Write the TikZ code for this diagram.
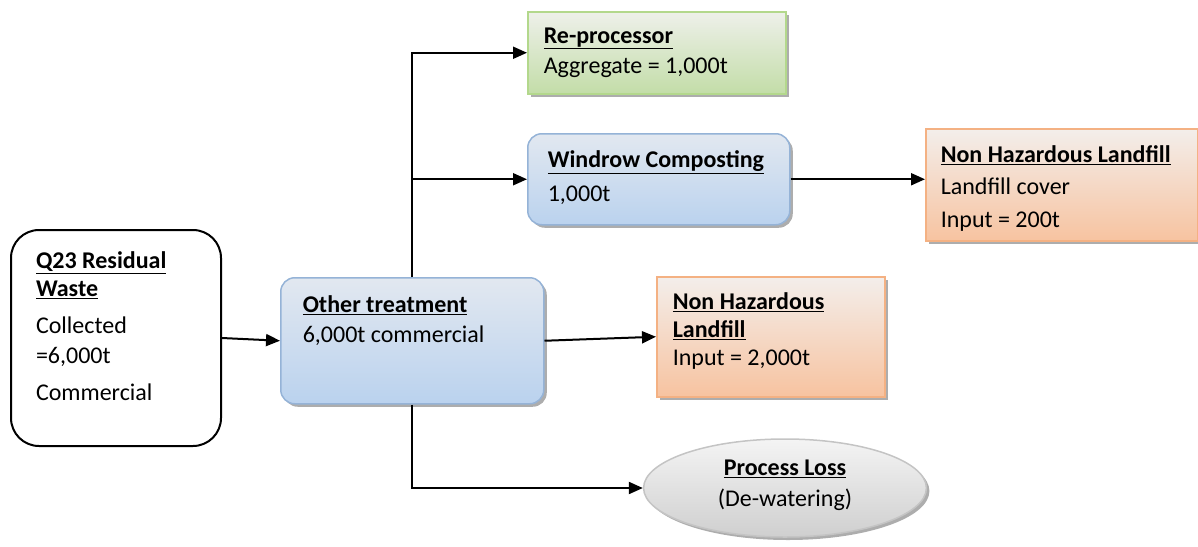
\documentclass[tikz,border=0pt]{standalone}
\usepackage{fontspec}
\setmainfont{Carlito}
\usetikzlibrary{shapes.geometric, arrows.meta, shadows}

\definecolor{bluetop}{HTML}{E2E8F0}
\definecolor{bluebot}{HTML}{BAD2EE}
\definecolor{blueline}{HTML}{95B3D7}
\definecolor{greentop}{HTML}{EEF0EA}
\definecolor{greenbot}{HTML}{C3DDA8}
\definecolor{greenline}{HTML}{B3D88C}
\definecolor{orangetop}{HTML}{F3EEEB}
\definecolor{orangebot}{HTML}{F7C3A0}
\definecolor{orangeline}{HTML}{F4B183}
\definecolor{greytop}{HTML}{F4F4F4}
\definecolor{greybot}{HTML}{CFCFCF}
\definecolor{greyline}{HTML}{C4C4C4}

\newcommand{\boxtext}[3]{\parbox[c][#2][t]{#1}{\raggedright #3}}

\tikzstyle{shadowbox} = [rectangle, anchor=north west, inner xsep=16pt, inner ysep=14pt, line width=1.5pt, drop shadow={shadow xshift=3pt, shadow yshift=-3pt, fill=black!40, opacity=0.8}]
\tikzstyle{wastebox} = [rectangle, rounded corners=28pt, draw=black, line width=2pt, fill=white, anchor=north west, inner xsep=25pt, inner ysep=16pt]
\tikzstyle{bluebox} = [shadowbox, rounded corners=14pt, draw=blueline, top color=bluetop, bottom color=bluebot]
\tikzstyle{greenbox} = [shadowbox, draw=greenline, top color=greentop, bottom color=greenbot]
\tikzstyle{orangebox} = [shadowbox, draw=orangeline, top color=orangetop, bottom color=orangebot]
\tikzstyle{lossbox} = [ellipse, draw=greyline, line width=1.5pt, top color=greytop, bottom color=greybot, inner sep=0pt, minimum width=282pt, minimum height=98pt, drop shadow={shadow xshift=3pt, shadow yshift=-3pt, fill=black!40, opacity=0.8}]
\tikzstyle{arrow} = [line width=2pt, ->, >={Triangle[length=14pt, width=12pt]}]

\begin{document}
\begin{tikzpicture}[x=1pt, y=-1pt, font=\fontsize{24}{29}\selectfont]
\useasboundingbox (0,0) rectangle (1198,546);

\node (q23) [wastebox, minimum width=210pt, minimum height=216pt] at (10,229) {\boxtext{160pt}{184pt}{\vspace{6pt}\underline{\textbf{Q23 Residual}}\\[-1pt]\underline{\textbf{Waste}}\\[8pt]Collected\\[1pt]=6,000t\\[8pt]Commercial}};
\node (other) [bluebox, inner xsep=22pt, minimum width=263pt, minimum height=126pt] at (280,277) {\boxtext{219pt}{98pt}{\vspace{4pt}\underline{\textbf{Other treatment}}\\[1pt]6,000t commercial}};

\node (reproc) [greenbox, minimum width=258pt, minimum height=82pt] at (527,11) {\boxtext{226pt}{54pt}{\vspace{2pt}\underline{\textbf{Re-processor}}\\[1pt]Aggregate = 1,000t}};
\node (windrow) [bluebox, inner xsep=20pt, minimum width=262pt, minimum height=91pt] at (527,133) {\boxtext{222pt}{63pt}{\vspace{3pt}\underline{\textbf{Windrow Composting}}\\[5pt]1,000t}};
\node (nhlright) [orangebox, inner xsep=15pt, minimum width=272pt, minimum height=112pt] at (925,128) {\boxtext{242pt}{84pt}{\vspace{3pt}\underline{\textbf{Non Hazardous Landfill}}\\[3pt]Landfill cover\\[4pt]Input = 200t}};
\node (nhlmid) [orangebox, minimum width=228pt, minimum height=120pt] at (656,276) {\boxtext{196pt}{92pt}{\vspace{2pt}\underline{\textbf{Non Hazardous}}\\[-1pt]\underline{\textbf{Landfill}}\\[-1pt]Input = 2,000t}};
\node (loss) [lossbox] at (785,488) {\parbox[c][60pt][t]{200pt}{\centering\vspace{2pt}\underline{\textbf{Process Loss}}\\[2pt](De-watering)}};

% flows
\draw[arrow] (q23.east) -- (other.west);
\draw[arrow] (other.east) -- (nhlmid.west);
\draw[arrow] (other.north) |- (reproc.west);
\draw[arrow] (other.north) |- (windrow.west);
\draw[arrow] (other.south) |- (loss.west);
\draw[arrow] (windrow.east) -- (windrow.east -| nhlright.west);

\end{tikzpicture}
\end{document}
